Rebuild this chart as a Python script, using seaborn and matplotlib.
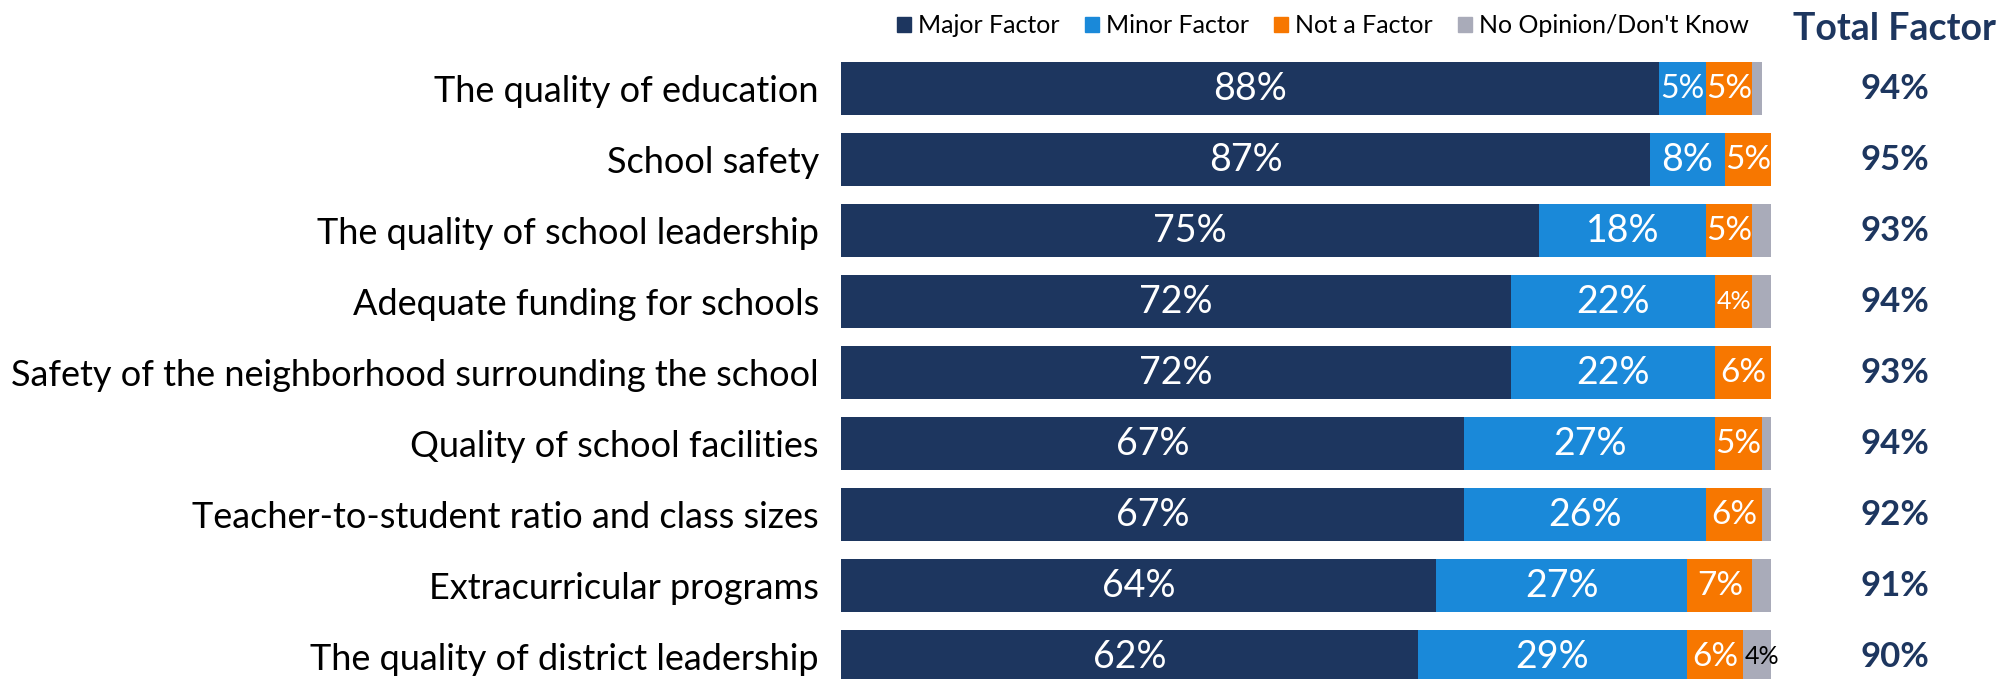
import matplotlib
matplotlib.use("Agg")
import matplotlib.pyplot as plt
import matplotlib.patches as mpatches
import seaborn as sns
import pandas as pd

# data
categories = [
    "The quality of education",
    "School safety",
    "The quality of school leadership",
    "Adequate funding for schools",
    "Safety of the neighborhood surrounding the school",
    "Quality of school facilities",
    "Teacher-to-student ratio and class sizes",
    "Extracurricular programs",
    "The quality of district leadership",
]
major = [88, 87, 75, 72, 72, 67, 67, 64, 62]
minor = [5, 8, 18, 22, 22, 27, 26, 27, 29]
not_factor = [5, 5, 5, 4, 6, 5, 6, 7, 6]
no_opinion = [1, 0, 2, 2, 1, 1, 2, 2, 4]
total_factor = [94, 95, 93, 94, 93, 94, 92, 91, 90]

series_names = ["Major Factor", "Minor Factor", "Not a Factor", "No Opinion/Don't Know"]
colors = ["#1D365F", "#1A89D9", "#F77700", "#A9ABB9"]

sns.set_style("white")
plt.rcParams["font.family"] = ["Lato", "DejaVu Sans"]
plt.rcParams["text.color"] = "black"
plt.rcParams["ytick.color"] = "black"

df = pd.DataFrame({"cat": categories, "major": major, "minor": minor,
                   "not": not_factor, "noop": no_opinion})
df["c1"] = df["major"]
df["c2"] = df["c1"] + df["minor"]
df["c3"] = df["c2"] + df["not"]
df["c4"] = df["c3"] + df["noop"]

fig = plt.figure(figsize=(20.11, 6.79), dpi=100)
ax = fig.add_axes([0.4182, 0.0, 0.4625, 0.941])

# stacked bars drawn as overlapping cumulative bars (largest first)
for col, c in zip(["c4", "c3", "c2", "c1"], colors[::-1]):
    sns.barplot(data=df, x=col, y="cat", color=c, orient="h", width=0.75,
                saturation=1, ax=ax, edgecolor="none")

ax.set_xlim(0, 100)
ax.set_ylim(8.315, -0.683)
ax.set_xlabel("")
ax.set_ylabel("")
ax.set_xticks([])
ax.tick_params(axis="y", length=0, labelsize=26, pad=16, labelcolor="black")
sns.despine(ax=ax, left=True, bottom=True)

# segment labels
for i in range(len(categories)):
    ax.text(major[i] / 2, i, f"{major[i]}%", ha="center", va="center",
            color="white", fontsize=27)
    ax.text(major[i] + minor[i] / 2, i, f"{minor[i]}%", ha="center", va="center",
            color="white", fontsize=27 if minor[i] > 5 else 23)
    nf_size = 24 if not_factor[i] > 4 else 18
    ax.text(major[i] + minor[i] + not_factor[i] / 2, i, f"{not_factor[i]}%",
            ha="center", va="center", color="white", fontsize=nf_size)
    if no_opinion[i] >= 4:
        ax.text(major[i] + minor[i] + not_factor[i] + no_opinion[i] / 2, i,
                f"{no_opinion[i]}%", ha="center", va="center", color="black",
                fontsize=18)
    ax.text(113.3, i, f"{total_factor[i]}%", ha="center", va="center",
            color="#1D365F", fontsize=25, fontweight="bold", clip_on=False)

ax.text(113.3, -0.84, "Total Factor", ha="center", va="center",
        color="#1D365F", fontsize=27, fontweight="bold", clip_on=False)

handles = [mpatches.Patch(color=c, label=n) for c, n in zip(colors, series_names)]
fig.legend(handles=handles, loc="center", bbox_to_anchor=(0.658, 0.962), ncol=4,
           frameon=False, fontsize=18, handlelength=0.55, handleheight=0.55,
           handletextpad=0.3, columnspacing=1.0, borderaxespad=0)

plt.savefig("out.png", dpi=100)
